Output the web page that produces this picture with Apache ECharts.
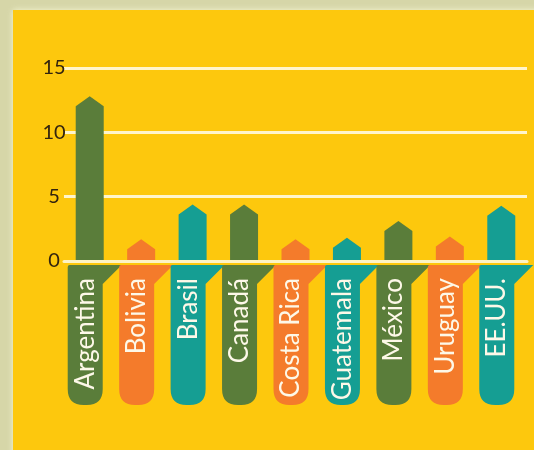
<!DOCTYPE html>
<html>
<head>
<meta charset="utf-8">
<script src="https://cdn.jsdelivr.net/npm/echarts@6/dist/echarts.min.js"></script>
<style>
  html, body { margin: 0; padding: 0; background: #d6d6a8; }
  #chart { width: 534px; height: 450px; }
</style>
</head>
<body>
<div id="chart"></div>
<script>
  // data
  var countries = ['Argentina', 'Bolivia', 'Brasil', 'Canadá', 'Costa Rica', 'Guatemala', 'México', 'Uruguay', 'EE.UU.'];
  var values = [12.8, 1.7, 4.4, 4.4, 1.7, 1.8, 3.1, 1.9, 4.3];
  var yTicks = [0, 5, 10, 15];

  // green / orange / teal repeat along the axis
  var palette = ['#5a7d3a', '#f47b2b', '#159e93'];

  var myChart = echarts.init(document.getElementById('chart'));

  myChart.setOption({
    backgroundColor: '#d6d6a8',
    animation: false,
    graphic: [{
      type: 'rect',
      z: -10,
      shape: { x: 13, y: 10, width: 560, height: 500, r: [0, 28, 0, 0] },
      style: { fill: '#fdc80d', shadowBlur: 6, shadowColor: 'rgba(250,250,215,0.9)' }
    }],
    grid: {
      left: 64,
      right: 7,
      top: 68,
      bottom: 189
    },
    xAxis: {
      type: 'category',
      data: countries,
      axisLine: { lineStyle: { color: '#fdf3c4', width: 3 } },
      axisTick: { show: false },
      axisLabel: { show: false }
    },
    yAxis: {
      type: 'value',
      min: yTicks[0],
      max: yTicks[yTicks.length - 1],
      interval: 5,
      axisLine: { show: false },
      axisTick: { show: false },
      axisLabel: {
        align: 'center',
        margin: 10,
        color: '#33240f',
        fontFamily: 'Lato',
        fontSize: 20
      },
      splitLine: {
        lineStyle: { color: '#fff5cc', width: 3 }
      }
    },
    series: [{
      type: 'custom',
      name: 'bars',
      data: values.map(function (v, i) { return [i, v]; }),
      encode: { x: 0, y: 1 },
      renderItem: function (params, api) {
        var i = api.value(0);
        var top = api.coord([i, api.value(1)]);
        var base = api.coord([i, 0]);
        var hw = 14, ah = 10;
        return {
          type: 'polygon',
          shape: {
            points: [
              [top[0] - hw, base[1] - 1],
              [top[0] - hw, top[1] + ah],
              [top[0], top[1]],
              [top[0] + hw, top[1] + ah],
              [top[0] + hw, base[1] - 1]
            ]
          },
          style: { fill: palette[i % 3] }
        };
      }
    }, {
      type: 'custom',
      name: 'tabs',
      clip: false,
      silent: true,
      data: countries.map(function (c, i) { return [i, 0]; }),
      encode: { x: 0, y: 1 },
      renderItem: function (params, api) {
        var i = api.value(0);
        var p = api.coord([i, 0]);
        var cx = p[0];
        var left = cx - 22, right = cx + 13, top = p[1] + 4, bottom = p[1] + 144;
        var r = 16;
        var d = 'M' + left + ',' + (top + 2) +
          ' Q' + left + ',' + top + ' ' + (left + 2) + ',' + top +
          ' L' + (cx + 32) + ',' + top +
          ' L' + right + ',' + (top + 19) +
          ' L' + right + ',' + (bottom - r) +
          ' Q' + right + ',' + bottom + ' ' + (right - r) + ',' + bottom +
          ' L' + (left + r) + ',' + bottom +
          ' Q' + left + ',' + bottom + ' ' + left + ',' + (bottom - r) + ' Z';
        return {
          type: 'group',
          children: [{
            type: 'path',
            shape: { pathData: d },
            style: { fill: palette[i % 3] }
          }, {
            type: 'text',
            x: cx - 4.5,
            y: top + 13,
            rotation: Math.PI / 2,
            style: {
              text: countries[i],
              fill: '#fdf8e8',
              font: '26px Lato',
              align: 'right',
              verticalAlign: 'middle'
            }
          }]
        };
      }
    }]
  });
</script>
</body>
</html>
